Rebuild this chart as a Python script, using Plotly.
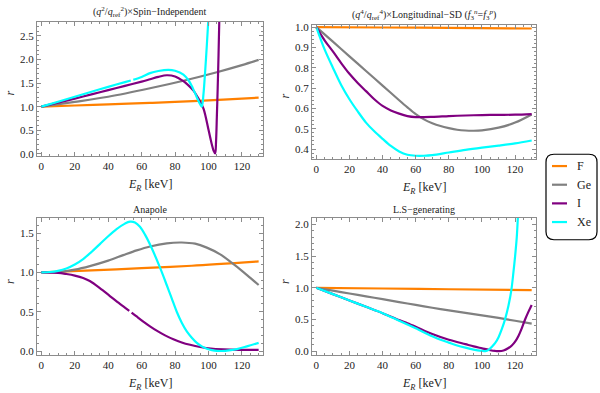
import plotly.graph_objects as go

# ratio r vs recoil energy E_R (keV)
# --- (q^2/q_ref^2) x Spin-Independent
si_e_f = [0, 20, 40, 65, 80, 100, 120, 130]
si_f = [1.0, 1.025, 1.05, 1.08, 1.10, 1.135, 1.17, 1.19]
si_e_ge = [0, 20, 40, 65, 85, 105, 120, 130]
si_ge = [1.0, 1.1, 1.21, 1.39, 1.55, 1.73, 1.88, 1.99]
si_e_i = [0, 10, 20, 30, 40, 50, 60, 65, 70, 75, 80, 85, 88, 91, 94, 97, 100, 102,
          103, 104, 104.5, 105, 105.5, 106, 106.5]
si_i = [1.0, 1.085, 1.17, 1.26, 1.35, 1.44, 1.53, 1.58, 1.63, 1.665, 1.64, 1.54, 1.45,
        1.34, 1.17, 0.96, 0.51, 0.2, 0.07, 0.01, 0.25, 0.79, 1.4, 2.1, 2.9]
si_e_xe = [0, 10, 20, 30, 40, 50, 53.5, 54.2, 55, 60, 65, 70, 76, 80, 85, 88, 90, 93,
           95, 96, 97, 98, 99, 100]
si_xe = [1.0, 1.105, 1.21, 1.315, 1.42, 1.52, 1.555, None, 1.57, 1.63, 1.71, 1.755,
         1.78, 1.76, 1.68, 1.56, 1.44, 1.2, 1.05, 1.0, 1.27, 1.75, 2.3, 2.9]

# --- (q^4/q_ref^4) x Longitudinal-SD
sd_e_f = [0, 40, 80, 130]
sd_f = [1.0, 0.998, 0.996, 0.993]
sd_e_ge = [0, 10, 20, 30, 40, 50, 55, 60, 65, 70, 75, 80, 85, 90, 95, 100, 110, 120, 130]
sd_ge = [1.0, 0.928, 0.856, 0.784, 0.712, 0.64, 0.605, 0.572, 0.546, 0.527, 0.513,
         0.503, 0.495, 0.491, 0.49, 0.492, 0.505, 0.53, 0.57]
sd_e_i = [0, 5, 10, 15, 20, 25, 30, 35, 40, 45, 50, 55, 60, 70, 80, 90, 100, 110, 120, 130]
sd_i = [1.0, 0.935, 0.88, 0.823, 0.77, 0.725, 0.685, 0.645, 0.612, 0.59, 0.574, 0.562,
        0.557, 0.558, 0.562, 0.565, 0.567, 0.568, 0.569, 0.572]
sd_e_xe = [0, 5, 10, 15, 20, 25, 30, 35, 40, 45, 50, 55, 60, 65, 70, 80, 90, 100, 110, 120, 130]
sd_xe = [1.0, 0.89, 0.8, 0.715, 0.645, 0.585, 0.53, 0.487, 0.45, 0.415, 0.388, 0.372,
         0.367, 0.367, 0.37, 0.383, 0.396, 0.407, 0.417, 0.428, 0.442]

# --- Anapole
an_e_f = [0, 30, 60, 90, 130]
an_f = [1.0, 1.025, 1.055, 1.085, 1.14]
an_e_ge = [0, 10, 20, 29, 40, 49, 57, 65, 75, 84, 92, 99, 107, 114, 120, 125, 130]
an_ge = [1.0, 1.005, 1.035, 1.08, 1.15, 1.22, 1.28, 1.33, 1.37, 1.38, 1.365, 1.315,
         1.23, 1.12, 1.02, 0.93, 0.84]
an_e_i = [0, 10, 15, 20, 25, 29, 35, 41, 47, 52.6, 53.3, 54, 57, 61, 65, 69, 74, 79,
          84, 89, 95, 100, 109, 120, 130]
an_i = [1.0, 0.995, 0.98, 0.96, 0.93, 0.89, 0.8, 0.7, 0.6, 0.51, None, 0.49, 0.44,
        0.375, 0.315, 0.26, 0.2, 0.15, 0.11, 0.08, 0.052, 0.036, 0.021, 0.016, 0.015]
an_e_xe = [0, 5, 10, 15, 20, 25, 30, 35, 40, 45, 50, 53, 56, 59, 62, 66, 71, 75,
           78, 81, 84, 87, 90, 93, 96, 99, 102, 105, 110, 117, 123, 130]
an_xe = [1.0, 1.005, 1.02, 1.05, 1.1, 1.17, 1.26, 1.36, 1.46, 1.55, 1.62, 1.645,
         1.635, 1.58, 1.48, 1.31, 1.06, 0.84, 0.67, 0.5, 0.36, 0.25, 0.17, 0.105,
         0.06, 0.03, 0.012, 0.003, 0.003, 0.025, 0.06, 0.105]

# --- L.S-generating
ls_e_f = [0, 40, 80, 130]
ls_f = [1.0, 0.989, 0.977, 0.963]
ls_e_ge = [0, 10, 20, 30, 40, 50, 60, 70, 80, 90, 100, 110, 120, 130]
ls_ge = [1.0, 0.955, 0.91, 0.865, 0.82, 0.775, 0.73, 0.685, 0.645, 0.605, 0.565,
         0.525, 0.48, 0.435]
ls_e_i = [0, 10, 20, 30, 40, 50, 55, 60, 70, 80, 90, 95, 100, 105, 108, 110, 113,
          116, 118, 120, 122, 124, 126, 128, 130]
ls_i = [1.0, 0.9, 0.8, 0.7, 0.6, 0.49, 0.44, 0.385, 0.27, 0.18, 0.11, 0.075, 0.045,
        0.015, 0.003, 0.0, 0.01, 0.05, 0.09, 0.15, 0.24, 0.36, 0.5, 0.62, 0.73]
ls_e_xe = [0, 10, 20, 30, 40, 50, 60, 70, 75, 80, 85, 90, 95, 100, 102, 104, 106, 108,
           110, 112, 114, 116, 117.7, 119, 120, 121, 121.7]
ls_xe = [1.0, 0.9, 0.8, 0.7, 0.6, 0.48, 0.36, 0.235, 0.18, 0.135, 0.09, 0.055, 0.025,
         0.005, 0.0, 0.02, 0.07, 0.13, 0.22, 0.35, 0.51, 0.72, 0.96, 1.25, 1.5, 1.8, 2.14]

names = ["F", "Ge", "I", "Xe"]
colors = ["#FF8000", "#808080", "#800080", "#00FFFF"]

panels = [
    dict(title="(<i>q</i><sup>2</sup>/<i>q</i><sub>ref</sub><sup>2</sup>)×Spin−Independent",
         series=[(si_e_f, si_f), (si_e_ge, si_ge), (si_e_i, si_i), (si_e_xe, si_xe)],
         yrange=[-0.05, 2.8], dtick=0.5, minor=0.1,
         xdom=[37, 263], ydom=[18, 155]),
    dict(title="(<i>q</i><sup>4</sup>/<i>q</i><sub>ref</sub><sup>4</sup>)×Longitudinal−SD "
               "(<i>f</i><sub>3</sub><sup><i>n</i></sup>=<i>f</i><sub>3</sub><sup><i>p</i></sup>)",
         series=[(sd_e_f, sd_f), (sd_e_ge, sd_ge), (sd_e_i, sd_i), (sd_e_xe, sd_xe)],
         yrange=[0.35, 1.012], dtick=0.1, minor=0.02,
         xdom=[312, 536], ydom=[21, 158]),
    dict(title="Anapole",
         series=[(an_e_f, an_f), (an_e_ge, an_ge), (an_e_i, an_i), (an_e_xe, an_xe)],
         yrange=[-0.045, 1.69], dtick=0.5, minor=0.1,
         xdom=[37, 263], ydom=[218, 357]),
    dict(title="L.S−generating",
         series=[(ls_e_f, ls_f), (ls_e_ge, ls_ge), (ls_e_i, ls_i), (ls_e_xe, ls_xe)],
         yrange=[-0.055, 2.1], dtick=0.5, minor=0.1,
         xdom=[312, 536], ydom=[218, 357]),
]

W, H = 600, 393
serif = "Liberation Serif, Times New Roman, serif"
frame = "#8c8c8c"
txt = "#222"

fig = go.Figure()
annotations = []
shapes = []

for k, p in enumerate(panels):
    ax = "" if k == 0 else str(k + 1)
    for j, (e, r) in enumerate(p["series"]):
        fig.add_trace(go.Scatter(
            x=e, y=r, mode="lines", name=names[j],
            line=dict(color=colors[j], width=2.2, shape="spline", smoothing=0.9),
            xaxis="x" + ax, yaxis="y" + ax,
            showlegend=False, hoverinfo="skip",
        ))

    x0, x1 = p["xdom"][0] / W, p["xdom"][1] / W
    y0, y1 = 1 - p["ydom"][1] / H, 1 - p["ydom"][0] / H
    common = dict(showline=True, linecolor=frame, linewidth=1, mirror="allticks",
                  ticks="inside", ticklen=4, tickcolor=frame, showgrid=False,
                  zeroline=False, tickfont=dict(family=serif, size=11, color=txt),
                  fixedrange=True)
    fig.update_layout({
        "xaxis" + ax: dict(common, domain=[x0, x1], range=[-2.6, 132.6],
                           anchor="y" + ax, tick0=0, dtick=20,
                           minor=dict(dtick=5, ticklen=2, tickcolor=frame, ticks="inside")),
        "yaxis" + ax: dict(common, domain=[y0, y1], range=p["yrange"],
                           anchor="x" + ax, tick0=0, dtick=p["dtick"], tickformat=".1f",
                           minor=dict(dtick=p["minor"], ticklen=2, tickcolor=frame,
                                      ticks="inside")),
    })

    # panel title, axis titles
    annotations.append(dict(text=p["title"], x=(x0 + x1) / 2, y=y1, xref="paper",
                            yref="paper", xanchor="center", yanchor="bottom",
                            showarrow=False, yshift=1,
                            font=dict(family=serif, size=10, color=txt)))
    annotations.append(dict(text="<i>E</i><sub><i>R</i></sub> [keV]", x=(x0 + x1) / 2,
                            y=y0, xref="paper", yref="paper", xanchor="center",
                            yanchor="top", showarrow=False, yshift=-19,
                            font=dict(family=serif, size=12, color=txt)))
    annotations.append(dict(text="<i>r</i>", x=x0, y=(y0 + y1) / 2, xref="paper",
                            yref="paper", xanchor="center", showarrow=False,
                            xshift=-27, textangle=-90,
                            font=dict(family=serif, size=12, color=txt)))

# legend: rounded frame with a short line swatch and label per element
bx0, bx1, by0, by1, rad = 546, 597, 153, 240, 8
pts = [("M", bx0 + rad, by0), ("L", bx1 - rad, by0), ("Q", bx1, by0), ("", bx1, by0 + rad),
       ("L", bx1, by1 - rad), ("Q", bx1, by1), ("", bx1 - rad, by1), ("L", bx0 + rad, by1),
       ("Q", bx0, by1), ("", bx0, by1 - rad), ("L", bx0, by0 + rad), ("Q", bx0, by0),
       ("", bx0 + rad, by0)]
path = " ".join(f"{c} {px / W:.5f},{1 - py / H:.5f}".strip() for c, px, py in pts) + " Z"
shapes.append(dict(type="path", xref="paper", yref="paper", path=path,
                   line=dict(color="black", width=1.2)))

legend_y = [165, 184, 203, 222]
for j, name in enumerate(names):
    yy = 1 - legend_y[j] / H
    shapes.append(dict(type="line", xref="paper", yref="paper",
                       x0=552 / W, x1=567 / W, y0=yy, y1=yy,
                       line=dict(color=colors[j], width=2.2)))
    annotations.append(dict(text=name, x=575 / W, y=yy, xref="paper", yref="paper",
                            xanchor="left", yanchor="middle", showarrow=False,
                            font=dict(family=serif, size=12, color=txt)))

fig.update_layout(
    width=W, height=H,
    margin=dict(l=0, r=0, t=0, b=0),
    paper_bgcolor="white", plot_bgcolor="white",
    annotations=annotations, shapes=shapes,
    showlegend=False,
)

fig.write_html("out.html", config={"displayModeBar": False},
               post_script="document.body.style.margin='0px';")
